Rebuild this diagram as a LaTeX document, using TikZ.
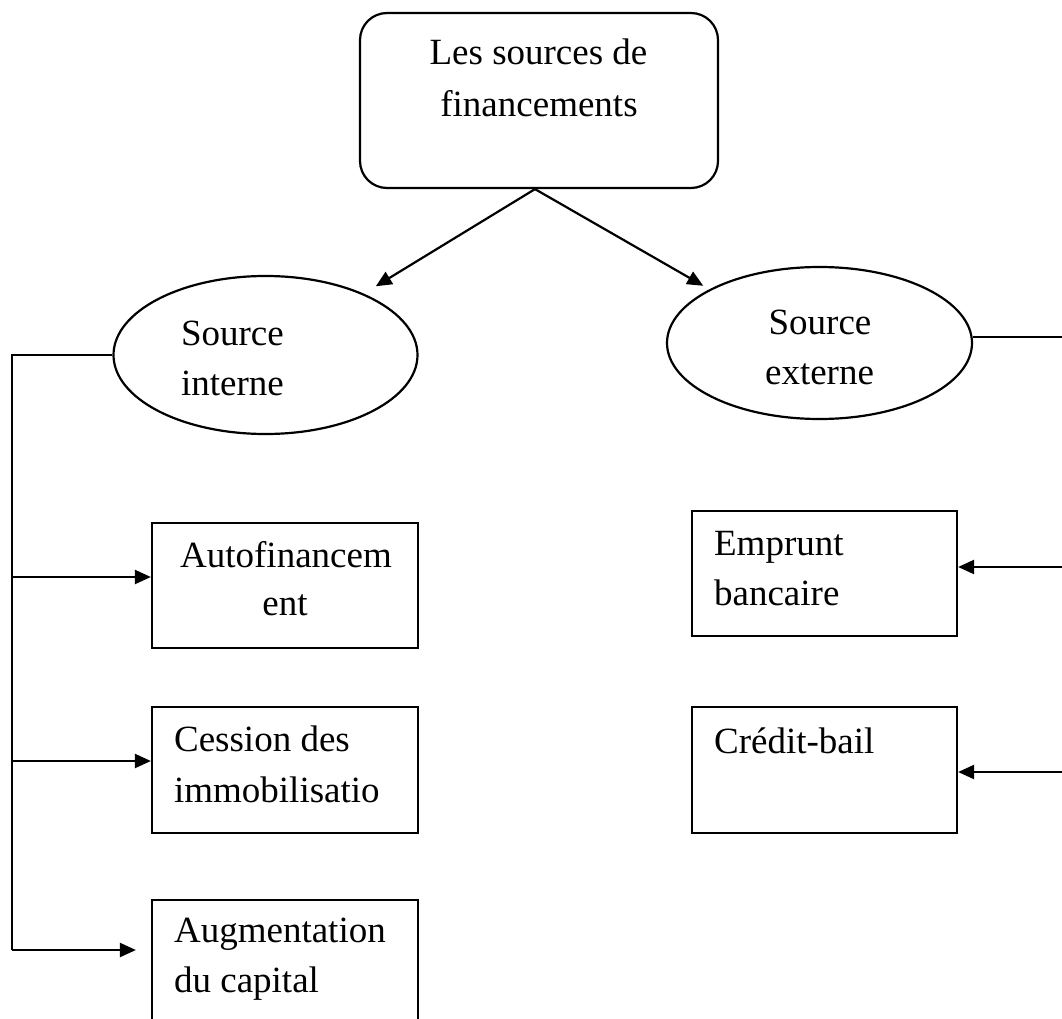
\documentclass[tikz,border=0pt]{standalone}
\usepackage{fontspec}
\setmainfont{Liberation Serif}
\usetikzlibrary{shapes.geometric,arrows.meta}
\begin{document}
\begin{tikzpicture}[x=1pt,y=-1pt,
  line width=2.2pt,
  lbl/.style={inner sep=0pt, font=\fontsize{37}{44}\selectfont},
  box/.style={draw, rectangle, minimum width=266pt, minimum height=125pt, inner sep=0pt},
  oval/.style={draw, ellipse, inner sep=0pt},
  arr/.style={-{Triangle[length=16pt,width=14pt]}},
]
\useasboundingbox (0,0) rectangle (1062,1019);
\clip (0,0) rectangle (1062,1019);

% main nodes
\node[draw, rounded corners=27pt, minimum width=358pt, minimum height=175pt, inner sep=0pt] (top) at (539,100.5) {};
\node[oval, minimum width=304pt, minimum height=158pt] (int) at (265.5,355) {};
\node[oval, minimum width=305pt, minimum height=152pt] (ext) at (819.5,343) {};

\node[box] (auto) at (285,585.5) {};
\node[box, minimum height=126pt] (cess) at (285,770) {};
\node[box, minimum height=140pt] (aug) at (285,970) {};
\node[box, minimum width=265pt] (emp) at (824.5,573.5) {};
\node[box, minimum width=265pt, minimum height=126pt] (cred) at (824.5,770) {};

% texts
\node[lbl, anchor=base] (t1) at (538.5,65) {Les sources de};
\node[lbl, anchor=base] (t2) at (539,117) {financements};
\node[lbl, anchor=base west] (t3) at (180,345) {Source};
\node[lbl, anchor=base west] (t4) at (180,395) {interne};
\node[lbl, anchor=base] (t5) at (820,334) {Source};
\node[lbl, anchor=base] (t6) at (819.5,384) {externe};
\node[lbl, anchor=base] (t7) at (286,567) {Autofinancem};
\node[lbl, anchor=base] (t8) at (285,615) {ent};
\node[lbl, anchor=base west] (t9) at (173,751) {Cession des};
\node[lbl, anchor=base west] (t10) at (173,802) {immobilisatio};
\node[lbl, anchor=base west] (t11) at (173,942) {Augmentation};
\node[lbl, anchor=base west] (t12) at (173,992) {du capital};
\node[lbl, anchor=base west] (t13) at (713,555) {Emprunt};
\node[lbl, anchor=base west] (t14) at (713,605) {bancaire};
\node[lbl, anchor=base west] (t15) at (713,753) {Crédit-bail};

% top arrows
\draw[arr, shorten >=14pt] ([xshift=-4pt]top.south) -- (int.32);
\draw[arr, shorten >=7pt] ([xshift=-4pt]top.south) -- (ext.154);

% left bus
\coordinate (lt) at (12,355);
\coordinate (b1) at (12,577);
\coordinate (b2) at (12,761);
\coordinate (b3) at (12,950);
\draw (int.west) -- (lt) -- (b3);
\draw[arr] (b1) -- (b1 -| auto.west);
\draw[arr] (b2) -- (b2 -| cess.west);
\draw[arr, shorten >=15pt] (b3) -- (b3 -| aug.west);

% right bus
\coordinate (rt) at (1062,337);
\coordinate (r1) at (1062,567);
\coordinate (r2) at (1062,772);
\draw (ext.east |- rt) -- (rt);
\draw[arr] (r1) -- (r1 -| emp.east);
\draw[arr] (r2) -- (r2 -| cred.east);
\end{tikzpicture}
\end{document}
